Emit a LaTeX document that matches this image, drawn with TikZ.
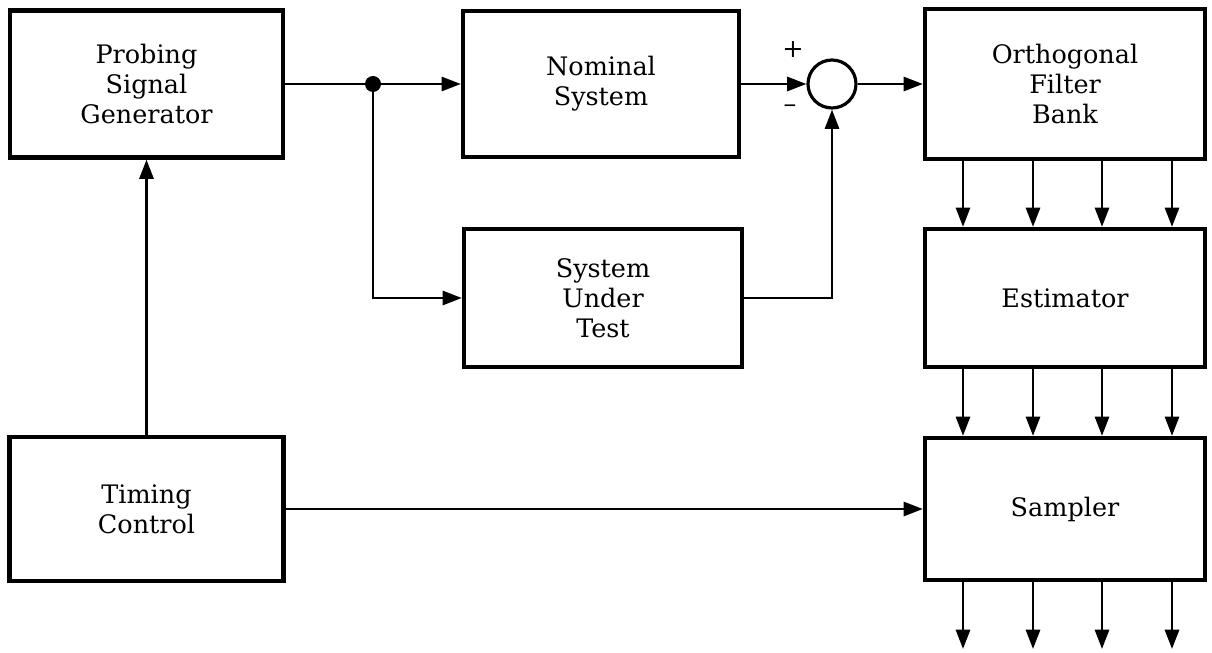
\documentclass[tikz,border=0pt]{standalone}
\usepackage{fontspec}
\setmainfont{DejaVu Serif}
\usetikzlibrary{arrows.meta}

\begin{document}
\begin{tikzpicture}[>={Triangle[length=11pt,width=8pt]},
  every node/.style={font=\fontsize{14.5}{17}\selectfont},
  blk/.style={draw,line width=2.4pt,align=center,inner sep=0pt},
  sig/.style={line width=1.6pt}]
\useasboundingbox (0,0) rectangle (24.24,13.04);
\node[blk,minimum width=5.46cm,minimum height=2.94cm] (psg) at (2.93,11.36) {Probing\\Signal\\Generator};
\node[blk,minimum width=5.52cm,minimum height=2.92cm] (nom) at (12.02,11.36) {Nominal\\System};
\node[blk,minimum width=5.56cm,minimum height=2.76cm] (sut) at (12.06,7.08) {System\\Under\\Test};
\node[draw,circle,line width=1.8pt,minimum size=0.96cm] (sum) at (16.64,11.36) {};
\node[blk,minimum width=5.6cm,minimum height=3.0cm] (ofb) at (21.3,11.36) {Orthogonal\\Filter\\Bank};
\node[blk,minimum width=5.6cm,minimum height=2.76cm] (est) at (21.3,7.08) {Estimator};
\node[blk,minimum width=5.48cm,minimum height=2.88cm] (tim) at (2.93,2.86) {Timing\\Control};
\node[blk,minimum width=5.6cm,minimum height=2.84cm] (smp) at (21.3,2.86) {Sampler};
\coordinate (split) at (7.46,11.36);
\fill (split) circle (0.16);
\draw[sig] (psg) -- (split);
\draw[sig,->] (split) -- (nom);
\draw[sig,->] (split) |- (sut);
\draw[sig,->] (nom) -- (sum);
\draw[sig,->] (sut) -| (sum);
\draw[sig,->] (sum) -- (ofb);
\draw[sig,->] (tim) -- (psg);
\draw[sig,->] (tim) -- (smp);
\foreach \x in {19.26,20.66,22.04,23.44} {
  \draw[sig,->] (\x,0 |- ofb.south) -- (\x,0 |- est.north);
  \draw[sig,->] (\x,0 |- est.south) -- (\x,0 |- smp.north);
  \coordinate (out) at (\x,0.06);
  \draw[sig,->] (\x,0 |- smp.south) -- (out);
}
\node at (15.86,12.04) {+};
\node at (15.8,10.86) {--};
\end{tikzpicture}
\end{document}
